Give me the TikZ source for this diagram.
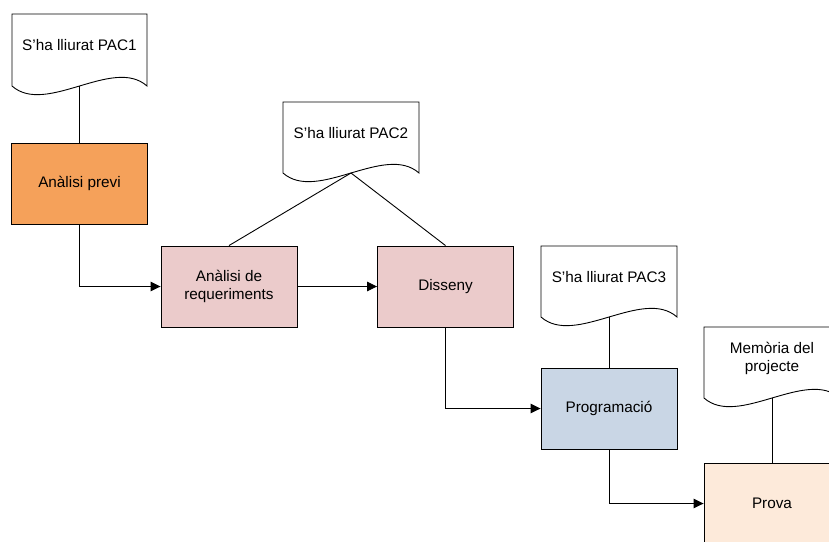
\documentclass[tikz,border=0pt]{standalone}
\usepackage{fontspec}
\setmainfont{Liberation Sans}
\usetikzlibrary{arrows.meta}

\definecolor{prevfill}{HTML}{F5A15A}
\definecolor{pinkfill}{HTML}{EBCBCB}
\definecolor{bluefill}{HTML}{C9D6E5}
\definecolor{peachfill}{HTML}{FDEADA}

% Document sheet with a wavy lower edge: name, left x, right x, top y, wave line y
\newcommand\docsheet[5]{%
  \path[docline] (#2,#5) -- (#2,#4) -- (#3,#4) -- (#3,#5)
    .. controls ({#3-0.25*(#3-#2)},{#5-30}) and ({#2+0.25*(#3-#2)},{#5+30}) .. cycle;
  \coordinate (#1-tie) at ({(#2+#3)/2},#5);
}

\begin{document}
\begin{tikzpicture}[x=1pt,y=-1pt,
  every node/.style={font=\fontsize{15.3}{18}\selectfont},
  phase/.style={draw, line width=0.9pt, minimum width=136pt, minimum height=81pt,
    align=center, inner sep=0pt},
  doctext/.style={align=center, inner sep=0pt},
  docline/.style={draw, fill=white, line width=0.9pt},
  link/.style={line width=0.9pt},
  flow/.style={link, -{Triangle[length=10pt,width=9.5pt]}}]

\useasboundingbox (0,0) rectangle (829,541);
\clip (0,0) rectangle (829,541);

% delivery documents
\docsheet{pac1}{12}{147}{14}{86}
\node[doctext] (pac1) at (79.5,45) {S’ha lliurat PAC1};
\docsheet{pac2}{283}{419}{102}{173}
\node[doctext] (pac2) at (351,133) {S’ha lliurat PAC2};
\docsheet{pac3}{541}{677}{246}{317}
\node[doctext] (pac3) at (609,277) {S’ha lliurat PAC3};
\docsheet{mem}{704}{840}{327}{398}
\node[doctext] (mem) at (772,358) {Memòria del\\projecte};

% project phases
\node[phase, fill=prevfill]  (prev) at (79.5,183.5) {Anàlisi previ};
\node[phase, fill=pinkfill]  (req)  at (229,286.5)  {Anàlisi de\\requeriments};
\node[phase, fill=pinkfill]  (dis)  at (445.5,286.5) {Disseny};
\node[phase, fill=bluefill]  (prog) at (609,408.5)  {Programació};
\node[phase, fill=peachfill] (prova) at (772,503.5) {Prova};

% documents tied to phases
\draw[link] (pac1-tie) -- (prev.north);
\draw[link] (pac2-tie) -- (req.north);
\draw[link] (pac2-tie) -- (dis.north);
\draw[link] (pac3-tie) -- (prog.north);
\draw[link] (mem-tie) -- (prova.north);

% sequence of phases
\draw[flow] (prev.south) |- (req.west);
\draw[flow] (req.east) -- (dis.west);
\draw[flow] (dis.south) |- (prog.west);
\draw[flow] (prog.south) |- (prova.west);

\end{tikzpicture}
\end{document}
